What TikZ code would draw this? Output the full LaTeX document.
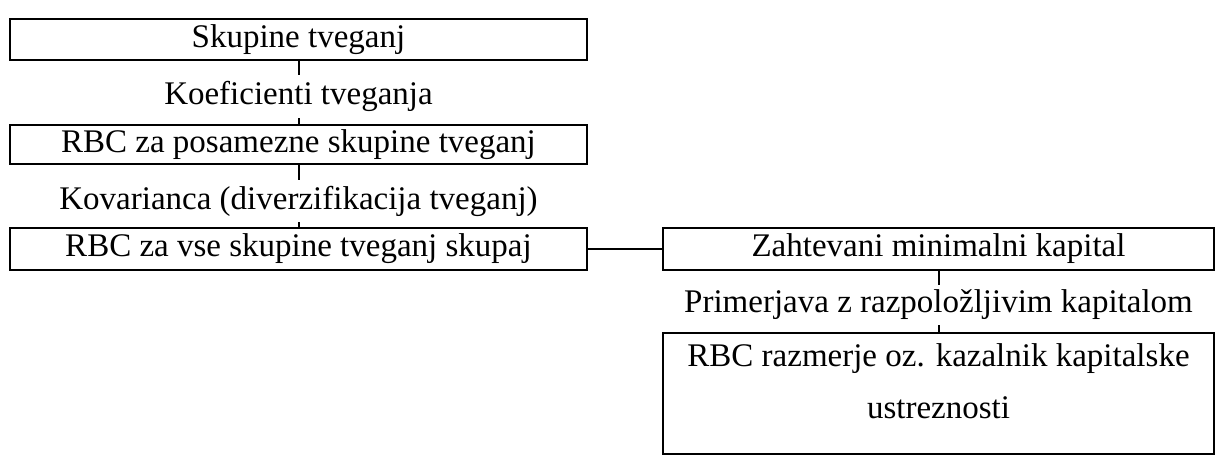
\documentclass[tikz,border=0pt]{standalone}
\usepackage{fontspec}
\setmainfont{Liberation Serif}
\begin{document}
\begin{tikzpicture}[x=1pt,y=-1pt,
  txt/.style={font=\fontsize{33}{52}\selectfont},
  box/.style={txt, draw, line width=2pt, inner sep=0pt, outer sep=0pt},
  lab/.style={txt, inner sep=0pt, outer sep=0pt},
  conn/.style={line width=2pt}]
\useasboundingbox (0,0) rectangle (1224,464);
\node[box, minimum width=577pt, minimum height=41pt] (b1) at (298.5,39.5) {Skupine tveganj};
\node[lab, minimum height=43pt] (l1) at (298.5,96.5) {Koeficienti tveganja};
\node[box, minimum width=577pt, minimum height=39pt] (b2) at (298.5,144.5) {RBC za posamezne skupine tveganj};
\node[lab, minimum height=42pt] (l2) at (298.5,201) {Kovarianca (diverzifikacija tveganj)};
\node[box, minimum width=577pt, minimum height=42pt] (b3) at (298.5,249) {RBC za vse skupine tveganj skupaj};
\node[box, minimum width=551pt, minimum height=42pt] (b4) at (938.5,249) {Zahtevani minimalni kapital};
\node[lab, minimum height=40pt] (l3) at (938.5,305) {Primerjava z razpoložljivim kapitalom};
\node[box, minimum width=551pt, minimum height=121pt] (b5) at (938.5,393.5) {};
\node[txt, anchor=north, align=center, inner sep=0pt] (t5) at ([yshift=-10pt]b5.north) {RBC razmerje oz. kazalnik kapitalske\\ustreznosti};
\draw[conn] (b1.south) -- (l1.north);
\draw[conn] (l1.south) -- (b2.north);
\draw[conn] (b2.south) -- (l2.north);
\draw[conn] (l2.south) -- (b3.north);
\draw[conn] (b3.east) -- (b4.west);
\draw[conn] (b4.south) -- (l3.north);
\draw[conn] (l3.south) -- (b5.north);
\end{tikzpicture}
\end{document}
